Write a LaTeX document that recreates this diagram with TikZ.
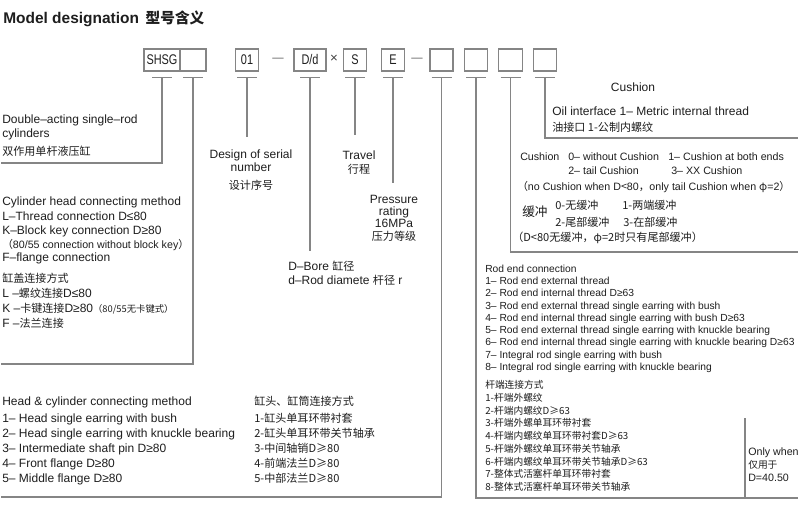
\documentclass[tikz,border=0pt]{standalone}
\usepackage{fontspec}
\usetikzlibrary{calc}
\setmainfont{Liberation Sans}
\newfontfamily\cjk{Noto Sans CJK SC}
\newfontfamily\narrowf[FakeStretch=0.78]{Liberation Sans}
\definecolor{txt}{HTML}{1E1E1E}
\definecolor{lnc}{HTML}{858585}
\begin{document}
\begin{tikzpicture}[x=0.75pt,y=-0.75pt,
  ln/.style={anchor=base west,inner sep=0,text=txt},
  lc/.style={anchor=base,inner sep=0,text=txt},
  fb/.style={font=\fontsize{9}{10}\selectfont},
  fs/.style={font=\fontsize{8}{9}\selectfont},
  fr/.style={font=\fontsize{7.7}{9}\selectfont},
  zb/.style={font=\cjk\fontsize{8.3}{9}\selectfont},
  zs/.style={font=\cjk\fontsize{7.3}{9}\selectfont},
  bx/.style={draw=lnc,line width=0.8pt,inner sep=0,minimum height=16.5pt,text=txt,font=\narrowf\fontsize{10.5}{11}\selectfont},
  wire/.style={draw=lnc,line width=0.85pt}]
\fill[white] (0,0) rectangle (800,513);
\useasboundingbox (0,0) rectangle (800,513);

% title
\node[ln,font=\bfseries\fontsize{11.6}{12}\selectfont] (title) at (3,24) {Model designation\hspace{5pt}{\cjk\bfseries\fontsize{11}{12}\selectfont 型号含义}};

% boxes
\node[bx,minimum width=27pt] (b1) at (162,60) {SHSG};
\node[bx,minimum width=19.5pt] (b2) at (193,60) {};
\node[bx,minimum width=17.25pt] (b3) at (247,60) {01};
\node[bx,minimum width=24pt] (b4) at (310,60) {D/d};
\node[bx,minimum width=17.25pt] (b5) at (355,60) {S};
\node[bx,minimum width=17.25pt] (b6) at (393,60) {E};
\node[bx,minimum width=17.25pt] (b7) at (441.5,60) {};
\node[bx,minimum width=17.5pt] (b8) at (476,60) {};
\node[bx,minimum width=17.5pt] (b9) at (510.5,60) {};
\node[bx,minimum width=17.5pt] (b10) at (545,60) {};
\node[inner sep=0,text=txt!75,font=\fontsize{8.5}{9}\selectfont] (d1) at (278,60) {—};
\node[inner sep=0,text=txt!85,font=\fontsize{10}{10}\selectfont] (x1) at (334,59) {×};
\node[inner sep=0,text=txt!75,font=\fontsize{8.5}{9}\selectfont] (d2) at (417,60) {—};

\foreach \i in {1,...,10} {
  \coordinate (t\i) at ($(b\i.south)+(0,6)$);
  \draw[wire] ($(t\i)+(-10,0)$) -- ($(t\i)+(10,0)$);
}
\coordinate (f1) at (1,163);
\coordinate (f2) at (1,364);
\coordinate (e3) at (247,137);
\coordinate (e4) at (310,251);
\coordinate (e5) at (355,135);
\coordinate (e6) at (393,183);
\coordinate (f7) at (1,497);
\coordinate (f8) at (798,498);
\coordinate (f9) at (798,252);
\coordinate (f10) at (798,138);
\coordinate (s1) at (745,418);
\coordinate (s2) at (745,498);
\draw[wire] (t1) |- (f1);
\draw[wire] (t2) |- (f2);
\draw[wire] (t3) -- (e3);
\draw[wire] (t4) -- (e4);
\draw[wire] (t5) -- (e5);
\draw[wire] (t6) -- (e6);
\draw[wire] (t7) |- (f7);
\draw[wire] (t8) |- (f8);
\draw[wire] (t9) |- (f9);
\draw[wire] (t10) |- (f10);
\draw[wire] (s1) -- (s2);

% block 1
\node[ln,fb] (a1) at (2,124) {Double–acting single–rod};
\node[ln,fb] (a2) at (2,138) {cylinders};
\node[ln,zb] (a3) at (2,156) {双作用单杆液压缸};

% block 2
\node[ln,fb] (c1) at (2,206) {Cylinder head connecting method};
\node[ln,fb] (c2) at (2,221) {L–Thread connection D≤80};
\node[ln,fb] (c3) at (2,235) {K–Block key connection D≥80};
\node[ln,fs] (c4) at (2,249) {{\cjk （}80/55 connection without block key{\cjk ）}};
\node[ln,fb] (c5) at (2,262) {F–flange connection};
\node[ln,zb] (c6) at (2,283) {缸盖连接方式};
\node[ln,fb] (c7) at (2,298) {L –{\cjk\fontsize{8.3}{9}\selectfont 螺纹连接}D≤80};
\node[ln,fb] (c8) at (2,313) {K –{\cjk\fontsize{8.3}{9}\selectfont 卡键连接}D≥80{\cjk\fontsize{7}{9}\selectfont （80/55无卡键式）}};
\node[ln,fb] (c9) at (2,328) {F –{\cjk\fontsize{8.3}{9}\selectfont 法兰连接}};

% block 3
\node[ln,fb] (h1) at (2,406) {Head \& cylinder connecting method};
\node[ln,fb] (h2) at (2,422) {1– Head single earring with bush};
\node[ln,fb] (h3) at (2,437) {2– Head single earring with knuckle bearing};
\node[ln,fb] (h4) at (2,452) {3– Intermediate shaft pin D≥80};
\node[ln,fb] (h5) at (2,467) {4– Front flange D≥80};
\node[ln,fb] (h6) at (2,482) {5– Middle flange D≥80};
\node[ln,zb] (k1) at (254,406) {缸头、缸筒连接方式};
\node[ln,zb] (k2) at (254,422) {1-缸头单耳环带衬套};
\node[ln,zb] (k3) at (254,437) {2-缸头单耳环带关节轴承};
\node[ln,zb] (k4) at (254,452) {3-中间轴销D≥80};
\node[ln,zb] (k5) at (254,467) {4-前端法兰D≥80};
\node[ln,zb] (k6) at (254,482) {5-中部法兰D≥80};

% serial
\node[lc,fb] (g1) at (251,159) {Design of serial};
\node[lc,fb] (g2) at (251,172) {number};
\node[lc,zb] (g3) at (251,190) {设计序号};
% travel
\node[lc,fb] (v1) at (359,160) {Travel};
\node[lc,zb] (v2) at (359,174) {行程};
% pressure
\node[lc,fb] (p1) at (394,204) {Pressure};
\node[lc,fb] (p2) at (394,216) {rating};
\node[lc,fb] (p3) at (394,228) {16MPa};
\node[lc,zb] (p4) at (394,241) {压力等级};
% bore
\node[ln,fb] (o1) at (288,271) {D–Bore {\cjk\fontsize{8.3}{9}\selectfont 缸径}};
\node[ln,fb] (o2) at (288,285) {d–Rod diamete {\cjk\fontsize{8.3}{9}\selectfont 杆径} r};

% cushion / oil
\node[lc,fb] (u1) at (633,92) {Cushion};
\node[ln,fb] (u2) at (552,116) {Oil interface 1– Metric internal thread};
\node[ln,zb] (u3) at (552,132) {油接口 1-公制内螺纹};
\node[ln,fs] (q1) at (520,161) {Cushion};
\node[ln,fs] (q2) at (568,161) {0– without Cushion};
\node[ln,fs] (q3) at (668,161) {1– Cushion at both ends};
\node[ln,fs] (q4) at (568,175) {2– tail Cushion};
\node[ln,fs] (q5) at (671,175) {3– XX Cushion};
\node[ln,fs] (q6) at (517,191) {{\cjk （}no Cushion when D{\cjk <}80{\cjk ，}only tail Cushion when {\cjk φ}=2{\cjk ）}};
\node[ln,font=\cjk\fontsize{9.5}{10}\selectfont] (w1) at (522,217) {缓冲};
\node[ln,zb] (w2) at (555,210) {0-无缓冲};
\node[ln,zb] (w3) at (622,210) {1-两端缓冲};
\node[ln,zb] (w4) at (555,227) {2-尾部缓冲};
\node[ln,zb] (w5) at (623,227) {3-在部缓冲};
\node[ln,zb] (w6) at (512,242) {（D<80无缓冲，φ=2时只有尾部缓冲）};

% rod end
\node[ln,fr] (r0) at (485,272.5) {Rod end connection};
\node[ln,fr] (r1) at (485,284.75) {1– Rod end external thread};
\node[ln,fr] (r2) at (485,297) {2– Rod end internal thread D≥63};
\node[ln,fr] (r3) at (485,309.25) {3– Rod end external thread single earring with bush};
\node[ln,fr] (r4) at (485,321.5) {4– Rod end internal thread single earring with bush D≥63};
\node[ln,fr] (r5) at (485,333.75) {5– Rod end external thread single earring with knuckle bearing};
\node[ln,fr] (r6) at (485,346) {6– Rod end internal thread single earring with knuckle bearing D≥63};
\node[ln,fr] (r7) at (485,358.25) {7– Integral rod single earring with bush};
\node[ln,fr] (r8) at (485,370.5) {8– Integral rod single earring with knuckle bearing};
\node[ln,zs] (z0) at (485,388.5) {杆端连接方式};
\node[ln,zs] (z1) at (485,401.25) {1-杆端外螺纹};
\node[ln,zs] (z2) at (485,414) {2-杆端内螺纹D≥63};
\node[ln,zs] (z3) at (485,426.75) {3-杆端外螺单耳环带衬套};
\node[ln,zs] (z4) at (485,439.5) {4-杆端内螺纹单耳环带衬套D≥63};
\node[ln,zs] (z5) at (485,452.25) {5-杆端外螺纹单耳环带关节轴承};
\node[ln,zs] (z6) at (485,465) {6-杆端内螺纹单耳环带关节轴承D≥63};
\node[ln,zs] (z7) at (485,477.75) {7-整体式活塞杆单耳环带衬套};
\node[ln,zs] (z8) at (485,490.5) {8-整体式活塞杆单耳环带关节轴承};
\node[ln,fs] (y1) at (748,455.5) {Only when};
\node[ln,zs] (y2) at (748,468) {仅用于};
\node[ln,fs] (y3) at (748,481.5) {D=40.50};
\end{tikzpicture}
\end{document}
